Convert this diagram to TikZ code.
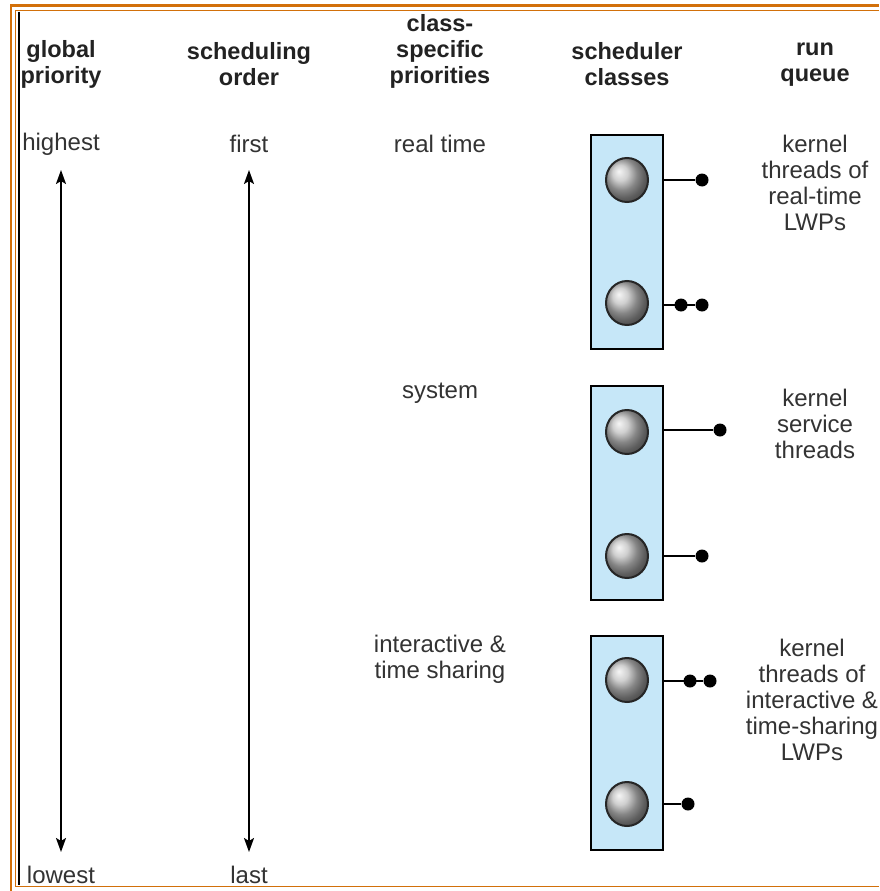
\documentclass[tikz,border=0pt]{standalone}
\usepackage{fontspec}
\setmainfont{Liberation Sans}
\usetikzlibrary{arrows.meta,shapes.geometric}
\definecolor{frameorange}{HTML}{D2700A}
\definecolor{boxblue}{HTML}{C6E7F8}
\definecolor{txt}{HTML}{333333}
\definecolor{hdr}{HTML}{222222}
\tikzset{
  hdrtext/.style={font=\fontsize{23.5}{26}\selectfont\bfseries, text=hdr, align=center, inner sep=0pt},
  plaintext/.style={font=\fontsize{24}{26}\selectfont, text=txt, align=center, inner sep=0pt},
  classbox/.style={draw=black, line width=2pt, fill=boxblue, minimum width=72pt, minimum height=214pt, inner sep=0pt},
  ballnode/.style={ellipse, draw=black!85, line width=2pt, minimum width=42pt, minimum height=44pt, inner sep=0pt, ball color=gray!50!white},
  qdot/.style={circle, fill=black, minimum size=13pt, inner sep=0pt},
  qline/.style={line width=2pt},
  prioarrow/.style={line width=2pt, {Stealth[length=14pt,width=10pt,inset=3pt]}-{Stealth[length=14pt,width=10pt,inset=3pt]}}
}
\begin{document}
\begin{tikzpicture}[x=1pt,y=-1pt]
\useasboundingbox (0,0) rectangle (879,891);
\fill[white] (0,0) rectangle (879,891);
% frame
\draw[frameorange, line width=2.6pt] (11,891) -- (11,5.5) -- (879,5.5);
\draw[frameorange, line width=1.8pt] (879,10.5) -- (15.5,10.5) -- (15.5,886.5) -- (879,886.5);
\draw[black, line width=2pt] (18.5,12) -- (18.5,885);
% headers
\node[hdrtext] (h1) at (61,64.5) {global\\priority};
\node[hdrtext] (h2) at (249,64.5) {scheduling\\order};
\node[hdrtext] (h3) at (440,51) {class-\\specific\\priorities};
\node[hdrtext] (h4) at (627,64.5) {scheduler\\classes};
\node[hdrtext] (h5) at (815,64.5) {run\\queue};
% priority labels
\node[plaintext] (hi) at (61,144) {highest};
\node[plaintext] (lo) at (61,875) {lowest};
\node[plaintext] (fi) at (249,144) {first};
\node[plaintext] (la) at (249,875) {last};
\coordinate (a1t) at (61,170);
\coordinate (a1b) at (61,852);
\coordinate (a2t) at (249,170);
\coordinate (a2b) at (249,852);
\draw[prioarrow] (a1t) -- (a1b);
\draw[prioarrow] (a2t) -- (a2b);
% class names
\node[plaintext] (c1) at (440,144) {real time};
\node[plaintext] (c2) at (440,393) {system};
\node[plaintext] (c3) at (440,659) {interactive \&\\time sharing};
% boxes
\node[classbox] (b1) at (627,241.5) {};
\node[classbox] (b2) at (627,493) {};
\node[classbox] (b3) at (627,743) {};
% balls
\node[ballnode] (s1) at (627,180) {};
\node[ballnode] (s2) at (627,303) {};
\node[ballnode] (s3) at (627,432) {};
\node[ballnode] (s4) at (627,556) {};
\node[ballnode] (s5) at (627,680) {};
\node[ballnode] (s6) at (627,804) {};
% queue dots
\node[qdot] (d1) at (702,180) {};
\node[qdot] (d2a) at (681,305) {};
\node[qdot] (d2b) at (702,305) {};
\node[qdot] (d3) at (720,430) {};
\node[qdot] (d4) at (702,556) {};
\node[qdot] (d5a) at (690,681) {};
\node[qdot] (d5b) at (710,681) {};
\node[qdot] (d6) at (688,804) {};
\draw[qline] (b1.east |- d1) -- (d1);
\draw[qline] (b1.east |- d2b) -- (d2b);
\draw[qline] (b2.east |- d3) -- (d3);
\draw[qline] (b2.east |- d4) -- (d4);
\draw[qline] (b3.east |- d5b) -- (d5b);
\draw[qline] (b3.east |- d6) -- (d6);
% run queue texts
\node[plaintext] (r1) at (815,183) {kernel\\threads of\\real-time\\LWPs};
\node[plaintext] (r2) at (815,424) {kernel\\service\\threads};
\node[plaintext] (r3) at (812,700) {kernel\\threads of\\interactive \&\\time-sharing\\LWPs};
\end{tikzpicture}
\end{document}
